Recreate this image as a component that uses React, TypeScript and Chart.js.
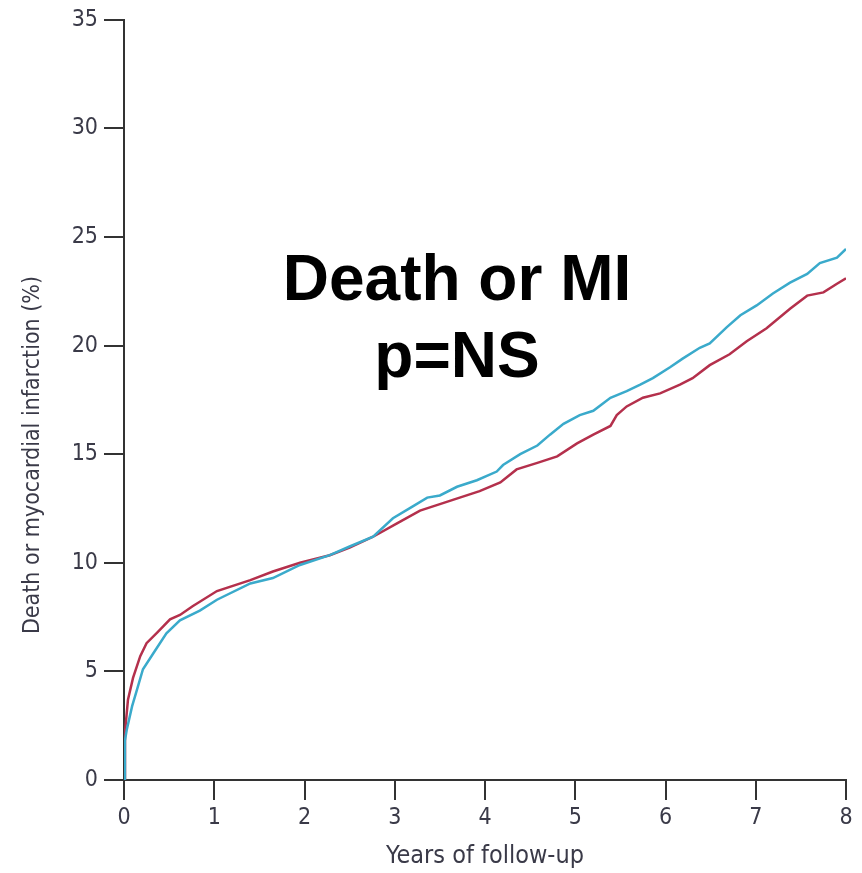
import React, { useEffect, useRef } from "react";
import { Chart, registerables } from "chart.js";

Chart.register(...registerables);

const blueYears = [0, 0.01, 0.03, 0.09, 0.14, 0.21, 0.32, 0.47, 0.62, 0.84, 1.03, 1.4, 1.65, 1.95, 2.28, 2.5, 2.76, 2.98, 3.2, 3.36, 3.5, 3.69, 3.91, 4.13, 4.2, 4.39, 4.58, 4.72, 4.87, 5.05, 5.2, 5.39, 5.57, 5.72, 5.86, 6.05, 6.19, 6.38, 6.49, 6.68, 6.83, 7.01, 7.19, 7.38, 7.57, 7.71, 7.9, 8.0];
const blueValues = [0, 1.8, 2.3, 3.4, 4.1, 5.1, 5.8, 6.75, 7.35, 7.8, 8.3, 9.05, 9.3, 9.9, 10.35, 10.75, 11.2, 12.05, 12.6, 13.0, 13.1, 13.5, 13.8, 14.2, 14.5, 15.0, 15.4, 15.9, 16.4, 16.8, 17.0, 17.6, 17.9, 18.2, 18.5, 19.0, 19.4, 19.9, 20.1, 20.85, 21.4, 21.85, 22.4, 22.9, 23.3, 23.8, 24.05, 24.45];

const redYears = [0, 0.011, 0.044, 0.1, 0.18, 0.25, 0.37, 0.51, 0.62, 0.76, 1.03, 1.4, 1.65, 1.95, 2.28, 2.5, 2.76, 3.02, 3.28, 3.5, 3.72, 3.94, 4.17, 4.35, 4.58, 4.8, 5.02, 5.2, 5.39, 5.46, 5.57, 5.75, 5.94, 6.16, 6.3, 6.49, 6.71, 6.9, 7.12, 7.38, 7.57, 7.75, 7.9, 8.0];
const redValues = [0, 2.2, 3.7, 4.7, 5.7, 6.3, 6.8, 7.4, 7.6, 8.0, 8.7, 9.2, 9.6, 10.0, 10.35, 10.7, 11.2, 11.8, 12.4, 12.7, 13.0, 13.3, 13.7, 14.3, 14.6, 14.9, 15.5, 15.9, 16.3, 16.8, 17.2, 17.6, 17.8, 18.2, 18.5, 19.1, 19.6, 20.2, 20.8, 21.7, 22.3, 22.45, 22.85, 23.1];

const xTitle = "Years of follow-up";
const yTitle = "Death or myocardial infarction (%)";
const annotationLines = ["Death or MI", "p=NS"];

const AXIS_FONT = "'DejaVu Sans Condensed', 'Liberation Sans Narrow', 'Open Sans', sans-serif";
const AXIS_COLOR = "#3a3a48";
const LINE_COLOR = "#333333";

const overlayPlugin = {
  id: "overlayText",
  afterDraw(chart: any) {
    const ctx = chart.ctx;
    ctx.save();
    ctx.translate(33, 455);
    ctx.rotate(-Math.PI / 2);
    ctx.font = `23px ${AXIS_FONT}`;
    ctx.fillStyle = AXIS_COLOR;
    ctx.textAlign = "center";
    ctx.textBaseline = "middle";
    ctx.fillText(yTitle, 0, 0);
    ctx.restore();

    ctx.save();
    ctx.font = "bold 64px 'Liberation Sans', Arial, sans-serif";
    ctx.fillStyle = "#000";
    ctx.textAlign = "center";
    ctx.textBaseline = "alphabetic";
    ctx.fillText(annotationLines[0], 457, 300);
    ctx.fillText(annotationLines[1], 457, 377);
    ctx.restore();
  },
};

export default function App() {
  const ref = useRef<HTMLCanvasElement>(null);
  useEffect(() => {
    if (!ref.current) return;
    const chart = new Chart(ref.current, {
      type: "line",
      data: {
        datasets: [
          {
            label: "Blue",
            data: blueYears.map((x, i) => ({ x, y: blueValues[i] })),
            borderColor: "#3aaacb",
            borderWidth: 2.5,
            pointRadius: 0,
            tension: 0,
          },
          {
            label: "Red",
            data: redYears.map((x, i) => ({ x, y: redValues[i] })),
            borderColor: "#b4304c",
            borderWidth: 2.5,
            pointRadius: 0,
            tension: 0,
          },
        ],
      },
      options: {
        responsive: false,
        animation: false,
        layout: { padding: { top: 19, right: 16, bottom: 0, left: 0 } },
        plugins: { legend: { display: false }, tooltip: { enabled: false } },
        scales: {
          x: {
            type: "linear",
            min: 0,
            max: 8,
            afterFit: (s: any) => {
              s.height = 93;
            },
            ticks: {
              stepSize: 1,
              color: AXIS_COLOR,
              font: { family: AXIS_FONT, size: 23 },
              padding: 4,
              maxRotation: 0,
            },
            grid: {
              display: true,
              drawOnChartArea: false,
              drawTicks: true,
              tickLength: 20,
              color: LINE_COLOR,
              lineWidth: 2,
            },
            border: { display: true, color: LINE_COLOR, width: 2 },
            title: {
              display: true,
              text: xTitle,
              color: AXIS_COLOR,
              font: { family: AXIS_FONT, size: 25 },
              padding: { top: 0, bottom: 2 },
            },
          },
          y: {
            min: 0,
            max: 35,
            afterFit: (s: any) => {
              s.width = 124;
            },
            ticks: {
              stepSize: 5,
              color: AXIS_COLOR,
              font: { family: AXIS_FONT, size: 23 },
              padding: 6,
            },
            grid: {
              display: true,
              drawOnChartArea: false,
              drawTicks: true,
              tickLength: 20,
              color: LINE_COLOR,
              lineWidth: 2,
            },
            border: { display: true, color: LINE_COLOR, width: 2 },
          },
        },
      },
      plugins: [overlayPlugin],
    });
    return () => chart.destroy();
  }, []);
  return (
    <div style={{ position: "fixed", left: 0, top: 0, width: 862, height: 873, background: "#fff" }}>
      <canvas ref={ref} width={862} height={873} style={{ display: "block" }} />
    </div>
  );
}
